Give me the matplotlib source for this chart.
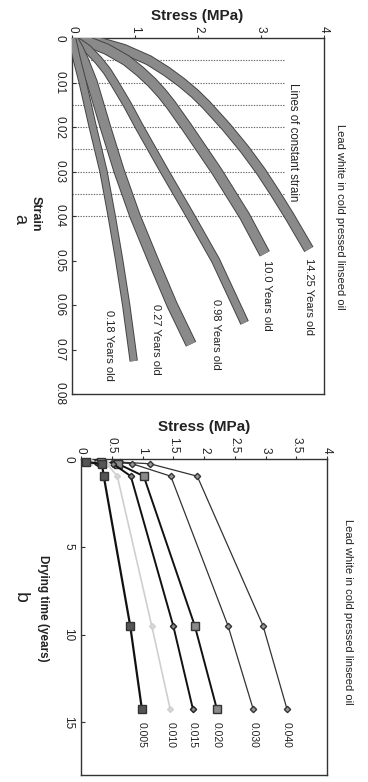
import matplotlib
matplotlib.use('Agg')
import matplotlib.pyplot as plt
import matplotlib.patheffects as pe

plt.rcParams['font.family'] = ['Liberation Sans', 'DejaVu Sans']

# (a) stress-strain curves for each age of the film
ages = ['14.25', '10.0', '0.98', '0.27', '0.18']
strain_1425 = [0, 0.001, 0.0025, 0.005, 0.0075, 0.01, 0.0125, 0.015, 0.02, 0.025, 0.03, 0.035, 0.04, 0.0475]
stress_1425 = [0, 0.45, 0.82, 1.22, 1.5, 1.74, 1.95, 2.13, 2.45, 2.74, 3.0, 3.23, 3.45, 3.76]
strain_100 = [0, 0.001, 0.0025, 0.005, 0.0075, 0.01, 0.0125, 0.015, 0.02, 0.025, 0.03, 0.035, 0.04, 0.0485]
stress_100 = [0, 0.28, 0.55, 0.86, 1.08, 1.27, 1.43, 1.57, 1.82, 2.06, 2.3, 2.52, 2.74, 3.06]
strain_098 = [0, 0.0025, 0.005, 0.0075, 0.01, 0.015, 0.02, 0.03, 0.04, 0.05, 0.064]
stress_098 = [0, 0.25, 0.42, 0.56, 0.67, 0.88, 1.07, 1.47, 1.88, 2.28, 2.74]
strain_027 = [0, 0.0025, 0.005, 0.01, 0.02, 0.03, 0.04, 0.05, 0.06, 0.0688]
stress_027 = [0, 0.1, 0.18, 0.32, 0.53, 0.75, 1.0, 1.29, 1.59, 1.89]
strain_018 = [0, 0.005, 0.01, 0.02, 0.03, 0.04, 0.05, 0.06, 0.0726]
stress_018 = [0, 0.08, 0.17, 0.33, 0.5, 0.63, 0.75, 0.86, 0.98]
const_strain = [0.005, 0.01, 0.015, 0.02, 0.025, 0.03, 0.035, 0.04]
const_strain_stress_end = 3.38

# (b) stress at constant strain against drying time
drying_time = [0.18, 0.27, 0.98, 9.5, 14.25]
s040 = [0.64, 1.12, 1.89, 2.96, 3.35]
s030 = [0.52, 0.83, 1.46, 2.39, 2.80]
s020 = [0.33, 0.60, 1.02, 1.85, 2.21]
s015 = [0.25, 0.52, 0.81, 1.50, 1.82]
s010 = [0.17, 0.42, 0.59, 1.15, 1.45]
s005 = [0.08, 0.34, 0.37, 0.80, 0.99]
strain_labels = ['0.040', '0.030', '0.020', '0.015', '0.010', '0.005']

W, H = 368, 782
fig = plt.figure(figsize=(W / 100, H / 100), dpi=100)

def box(l, t, r, b):
    return [l / W, 1 - b / H, (r - l) / W, (b - t) / H]

ink = '#222222'
tfs = 8.5

# ---------------- panel a ----------------
axa = fig.add_axes(box(72, 38, 324, 394))
axa.set_xlim(0, 4)
axa.set_ylim(0.08, 0)
axa.set_xticks([0, 1, 2, 3, 4])
axa.set_yticks([0, 0.01, 0.02, 0.03, 0.04, 0.05, 0.06, 0.07, 0.08])
axa.set_yticklabels(['0', '0.01', '0.02', '0.03', '0.04', '0.05', '0.06', '0.07', '0.08'])

for s in const_strain:
    axa.plot([0, const_strain_stress_end], [s, s], color='#666666', lw=0.8,
             ls=(0, (1.2, 1.2)), zorder=1)

curves = [
    (stress_1425, strain_1425, 6.2),
    (stress_100, strain_100, 6.8),
    (stress_098, strain_098, 5.2),
    (stress_027, strain_027, 6.8),
    (stress_018, strain_018, 4.6),
]
for x, y, w in curves:
    axa.plot(x, y, color='#8a8a8a', lw=w, solid_capstyle='butt',
             solid_joinstyle='round', zorder=3,
             path_effects=[pe.Stroke(linewidth=w + 1.4, foreground='#444444'),
                           pe.Normal()])

label_pos = {
    '14.25': (3.76, 0.0495),
    '10.0': (3.1, 0.0500),
    '0.98': (2.29, 0.0587),
    '0.27': (1.33, 0.0598),
    '0.18': (0.58, 0.0612),
}
for age in ages:
    x, y = label_pos[age]
    axa.text(x, y, age + ' Years old', rotation=-90, ha='center', va='top',
             fontsize=8, color=ink)

axa.text(3.5, 0.0235, 'Lines of constant strain', rotation=-90, ha='center',
         va='center', fontsize=8.3, color=ink)

# ---------------- panel b ----------------
axb = fig.add_axes(box(81, 459, 327, 775))
axb.set_xlim(0, 4)
axb.set_ylim(18, 0)
axb.set_xticks([0, 0.5, 1, 1.5, 2, 2.5, 3, 3.5, 4])
axb.set_xticklabels(['0', '0.5', '1', '1.5', '2', '2.5', '3', '3.5', '4'])
axb.set_yticks([0, 5, 10, 15])

series = [
    (s040, dict(color='#333333', lw=0.9, marker='D', ms=3.2, mfc='#9a9a9a', mec='#333333')),
    (s030, dict(color='#333333', lw=0.9, marker='D', ms=3.2, mfc='#9a9a9a', mec='#333333')),
    (s020, dict(color='#111111', lw=1.4, marker='s', ms=5.5, mfc='#8a8a8a', mec='#333333')),
    (s015, dict(color='#111111', lw=1.4, marker='D', ms=3.2, mfc='#8a8a8a', mec='#222222')),
    (s010, dict(color='#cfcfcf', lw=1.2, marker='D', ms=3.0, mfc='#d8d8d8', mec='#cfcfcf')),
    (s005, dict(color='#111111', lw=1.6, marker='s', ms=5.5, mfc='#555555', mec='#333333')),
]
for (vals, style), lab in zip(series, strain_labels):
    axb.plot(vals, drying_time, zorder=3, clip_on=False, **style)
    axb.text(vals[-1], 15.0, lab, rotation=-90, ha='center', va='top',
             fontsize=7.5, color=ink)

# ---------------- shared styling ----------------
for ax in (axa, axb):
    ax.xaxis.tick_top()
    ax.tick_params(axis='x', direction='out', length=2, pad=2, labelsize=tfs,
                   labelcolor=ink, labelrotation=-90, colors='#333333')
    ax.tick_params(axis='y', direction='in', length=3, pad=5, labelsize=tfs,
                   labelcolor=ink, labelrotation=-90, colors='#333333')
    for lbl in ax.get_yticklabels():
        lbl.set_va('center')
    for sp in ax.spines.values():
        sp.set_color('#333333')
        sp.set_linewidth(1.0)

fig.text(197 / W, 1 - 16 / H, 'Stress (MPa)', ha='center', va='center',
         fontsize=11, fontweight='bold', color=ink)
fig.text(204 / W, 1 - 427 / H, 'Stress (MPa)', ha='center', va='center',
         fontsize=11, fontweight='bold', color=ink)

fig.text(340 / W, 1 - 217 / H, 'Lead white in cold pressed linseed oil',
         rotation=-90, ha='center', va='center', fontsize=8, color=ink)
fig.text(348 / W, 1 - 612 / H, 'Lead white in cold pressed linseed oil',
         rotation=-90, ha='center', va='center', fontsize=8, color=ink)

fig.text(36 / W, 1 - 214 / H, 'Strain', rotation=-90, ha='center', va='center',
         fontsize=9, fontweight='bold', color=ink)
fig.text(20 / W, 1 - 219 / H, 'a', rotation=-90, ha='center', va='center',
         fontsize=13, color=ink)
fig.text(43 / W, 1 - 608 / H, 'Drying time (years)', rotation=-90, ha='center',
         va='center', fontsize=8.5, fontweight='bold', color=ink)
fig.text(20 / W, 1 - 597 / H, 'b', rotation=-90, ha='center', va='center',
         fontsize=14, color=ink)

fig.savefig('out.png', dpi=100, facecolor='white')
